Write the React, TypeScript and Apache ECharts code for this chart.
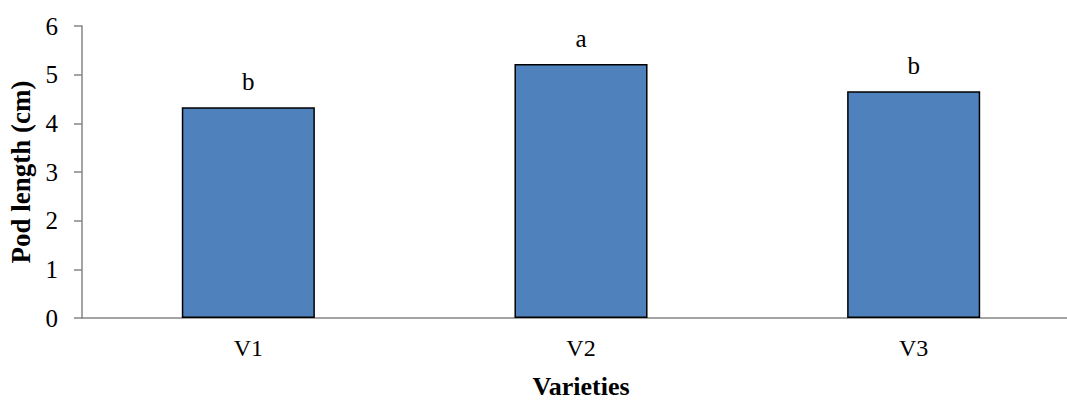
import React, { useEffect, useRef } from "react";
import * as echarts from "echarts";

const categories = ["V1", "V2", "V3"];
const podLength = [4.33, 5.22, 4.66];
const letters = ["b", "a", "b"];

export default function App() {
  const ref = useRef<HTMLDivElement>(null);
  useEffect(() => {
    document.body.style.margin = "0";
    const chart = echarts.init(ref.current!, null, { renderer: "svg" });
    const font = "'Liberation Serif', 'Times New Roman', serif";
    chart.setOption({
      animation: false,
      grid: { left: 82, top: 26, width: 998, height: 292, outerBoundsMode: "none", containLabel: false },
      xAxis: {
        type: "category",
        data: categories,
        name: "Varieties",
        nameLocation: "middle",
        nameGap: 55,
        nameTextStyle: { fontFamily: font, fontSize: 26, fontWeight: "bold", color: "#000" },
        axisLine: { lineStyle: { color: "#868686", width: 1.5 } },
        axisTick: { show: false },
        axisLabel: { fontFamily: font, fontSize: 24, color: "#000", margin: 18 },
      },
      yAxis: {
        type: "value",
        min: 0,
        max: 6,
        interval: 1,
        name: "Pod length (cm)",
        nameLocation: "middle",
        nameGap: 44,
        nameTextStyle: { fontFamily: font, fontSize: 27, fontWeight: "bold", color: "#000" },
        axisLine: { show: true, lineStyle: { color: "#868686", width: 1.5 } },
        axisTick: { show: true, length: 8, lineStyle: { color: "#868686", width: 1.5 } },
        axisLabel: { fontFamily: font, fontSize: 25, color: "#000", margin: 24 },
        splitLine: { show: false },
      },
      series: [
        {
          type: "bar",
          data: podLength.map((v, i) => ({ value: v, label: { formatter: letters[i] } })),
          barWidth: "40%",
          itemStyle: { color: "#4F81BD", borderColor: "#000", borderWidth: 1.5 },
          label: {
            show: true,
            position: "top",
            distance: 13,
            fontFamily: font,
            fontSize: 25,
            color: "#000",
          },
        },
      ],
    });
    return () => chart.dispose();
  }, []);
  return <div ref={ref} style={{ width: 1067, height: 400, overflow: "hidden" }} />;
}
